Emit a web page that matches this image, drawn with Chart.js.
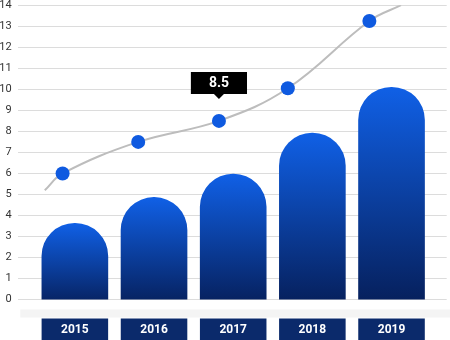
<!DOCTYPE html>
<html>
<head>
<meta charset="utf-8">
<script src="https://cdn.jsdelivr.net/npm/chart.js@4.4.0/dist/chart.umd.min.js"></script>
<style>
  html, body { margin: 0; padding: 0; background: #fff; }
  #wrap { position: relative; width: 450px; height: 340px; overflow: hidden; }
  #wrap canvas { position: absolute; left: 0; top: -8px; }
</style>
</head>
<body>
<div id="wrap"><canvas id="chart" width="450" height="360"></canvas></div>
<script>
const years = ['2015', '2016', '2017', '2018', '2019'];
const barValues = [3.63, 4.86, 5.97, 7.92, 10.1];

// trend curve: position along the year axis (0 = 2015) and value, incl. its two loose ends
const trendX = [-0.38, -0.155, 0.8, 1.82, 2.69, 3.72, 4.12];
const trendValues = [5.2, 6.0, 7.5, 8.5, 10.05, 13.25, 14];
const highlightIndex = 3; // the 8.5 point

const yMin = -0.42;
const yMax = 14;

Chart.defaults.font.family = 'Roboto';

// light strip between the plot and the year boxes
const baseStrip = {
  id: 'baseStrip',
  beforeDatasetsDraw(chart) {
    const { ctx, chartArea } = chart;
    ctx.save();
    ctx.fillStyle = '#f4f4f4';
    ctx.fillRect(chartArea.left + 2, chartArea.bottom + 1, chart.width - chartArea.left - 2, 8);
    ctx.restore();
  }
};

function barGradient(c) {
  const chart = c.chart;
  const area = chart.chartArea;
  if (!area || !c.parsed) return '#0d4fc9';
  const top = chart.scales.y.getPixelForValue(c.parsed.y);
  const g = chart.ctx.createLinearGradient(0, top, 0, area.bottom);
  g.addColorStop(0, '#1060e6');
  g.addColorStop(1, '#061e58');
  return g;
}

function boxGradient(c) {
  const chart = c.chart;
  const area = chart.chartArea;
  if (!area) return '#08245f';
  const g = chart.ctx.createLinearGradient(0, area.bottom + 10, 0, chart.height);
  g.addColorStop(0, '#0b2a6b');
  g.addColorStop(1, '#041a4c');
  return g;
}

const chart = new Chart(document.getElementById('chart'), {
  type: 'bar',
  data: {
    datasets: [
      {
        type: 'line',
        label: 'trend',
        data: trendX.map((x, i) => ({ x, y: trendValues[i] })),
        borderColor: '#bdbdbd',
        borderWidth: 2,
        tension: 0.4,
        pointRadius: c => (c.dataIndex === 0 || c.dataIndex === trendX.length - 1) ? 0 : 7,
        pointHoverRadius: c => (c.dataIndex === 0 || c.dataIndex === trendX.length - 1) ? 0 : 7,
        pointBackgroundColor: '#0f5ae0',
        pointBorderWidth: 0
      },
      {
        type: 'bar',
        label: 'value',
        data: years.map((y, i) => ({ x: i, y: barValues[i] })),
        barThickness: 66,
        borderRadius: 33,
        borderSkipped: 'bottom',
        backgroundColor: barGradient
      }
    ]
  },
  options: {
    responsive: false,
    animation: false,
    events: [],
    layout: { autoPadding: false, padding: { left: -7.3, right: 3.3, top: 0, bottom: 0.5 } },
    plugins: {
      legend: { display: false },
      tooltip: {
        enabled: true,
        backgroundColor: '#000',
        cornerRadius: 0,
        displayColors: false,
        caretSize: 5,
        caretPadding: 22,
        xAlign: 'center',
        yAlign: 'bottom',
        padding: { top: 3, bottom: 2, left: 18, right: 18 },
        bodyFont: { family: 'Roboto', weight: 'bold', size: 14 },
        bodyColor: '#fff',
        callbacks: {
          title: () => '',
          label: c => String(c.parsed.y)
        }
      }
    },
    scales: {
      x: {
        type: 'linear',
        offset: false,
        min: -0.715,
        max: 4.697,
        grid: { display: false, drawTicks: false },
        border: { display: false },
        afterBuildTicks: scale => { scale.ticks = years.map((_, i) => ({ value: i })); },
        ticks: {
          autoSkip: false,
          maxRotation: 0,
          padding: 14.3,
          color: '#fff',
          font: { family: 'Roboto', weight: 'bold', size: 12 },
          showLabelBackdrop: true,
          backdropColor: boxGradient,
          backdropPadding: { top: 4.3, bottom: 14, left: 19.5, right: 19.5 },
          callback: v => years[v] ?? ''
        }
      },
      y: {
        min: yMin,
        max: yMax,
        grid: { color: '#dcdcdc', drawTicks: false },
        border: { display: false },
        ticks: {
          stepSize: 1,
          includeBounds: false,
          padding: 6.6,
          color: '#333',
          font: { family: 'Roboto', size: 11 }
        }
      }
    }
  },
  plugins: [baseStrip]
});

chart.tooltip.setActiveElements([{ datasetIndex: 0, index: highlightIndex }], { x: 0, y: 0 });
chart.update();
</script>
</body>
</html>
